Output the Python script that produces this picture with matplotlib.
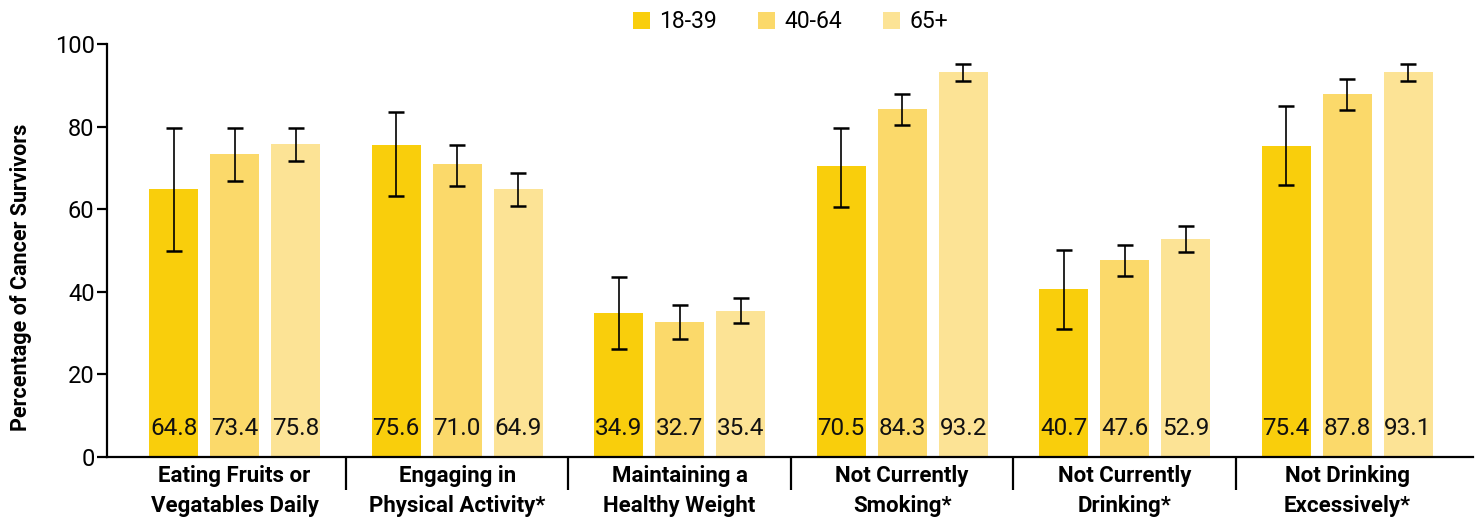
import numpy as np
import matplotlib
matplotlib.use('Agg')
from matplotlib import pyplot as plt

plt.rcParams['font.family'] = ['Roboto', 'DejaVu Sans']

categories = ['Eating Fruits or\nVegatables Daily', 'Engaging in\nPhysical Activity*',
              'Maintaining a\nHealthy Weight', 'Not Currently\nSmoking*',
              'Not Currently\nDrinking*', 'Not Drinking\nExcessively*']
age_groups = ['18-39', '40-64', '65+']

pct_18_39 = [64.8, 75.6, 34.9, 70.5, 40.7, 75.4]
pct_40_64 = [73.4, 71.0, 32.7, 84.3, 47.6, 87.8]
pct_65_up = [75.8, 64.9, 35.4, 93.2, 52.9, 93.1]

# 95% confidence limits (lower, upper)
ci_18_39 = [(49.9, 79.7), (63.2, 83.5), (26.1, 43.6), (60.5, 79.7), (31.0, 50.1), (65.9, 85.0)]
ci_40_64 = [(66.9, 79.7), (65.6, 75.5), (28.6, 36.9), (80.4, 88.0), (43.8, 51.3), (84.0, 91.5)]
ci_65_up = [(71.7, 79.7), (60.8, 68.8), (32.4, 38.5), (91.0, 95.2), (49.6, 55.9), (91.0, 95.2)]

colors = ['#F9CE0C', '#FBD96A', '#FCE395']

series = [(pct_18_39, ci_18_39), (pct_40_64, ci_40_64), (pct_65_up, ci_65_up)]

fig = plt.figure(figsize=(14.83, 5.2), dpi=100)
ax = fig.add_axes([0.0722, 0.1212, 0.9933 - 0.0722, 0.9154 - 0.1212])

x = np.arange(len(categories))
width = 0.22
step = 0.274
for i, (vals, ci) in enumerate(series):
    vals = np.array(vals)
    lo = vals - np.array([c[0] for c in ci])
    hi = np.array([c[1] for c in ci]) - vals
    xs = x + (i - 1) * step
    ax.bar(xs, vals, width, color=colors[i], label=age_groups[i], zorder=2)
    ax.errorbar(xs, vals, yerr=[lo, hi], fmt='none', ecolor='black',
                elinewidth=1.2, capsize=5.5, capthick=1.8, zorder=3)
    for xv, v in zip(xs, vals):
        ax.text(xv, 5.3, '%.1f' % v, ha='center', va='baseline',
                fontsize=17.5, color='#111111', zorder=4)

ax.set_xlim(-0.573, 5.566)
ax.set_ylim(0, 100)
ax.set_yticks([0, 20, 40, 60, 80, 100])
ax.tick_params(axis='y', labelsize=17, length=7, width=1.6, pad=2)

ax.set_xticks(x)
ax.set_xticklabels(categories, fontsize=16, fontweight='bold', linespacing=1.45)
ax.tick_params(axis='x', which='major', length=0, pad=6)
ax.set_xticks(x[:-1] + 0.5, minor=True)
ax.tick_params(axis='x', which='minor', length=24, width=1.6)

for side in ['top', 'right']:
    ax.spines[side].set_visible(False)
for side in ['left', 'bottom']:
    ax.spines[side].set_linewidth(1.6)

ax.set_ylabel('Percentage of Cancer Survivors', fontsize=15.5, fontweight='bold')
ax.yaxis.set_label_coords(-0.055, 0.436)

fig.legend(loc='center', bbox_to_anchor=(0.533, 0.958), ncol=3, frameon=False,
           fontsize=16.5, handlelength=0.75, handleheight=0.75, handletextpad=0.4,
           columnspacing=1.8)

fig.savefig('out.png', dpi=100)
